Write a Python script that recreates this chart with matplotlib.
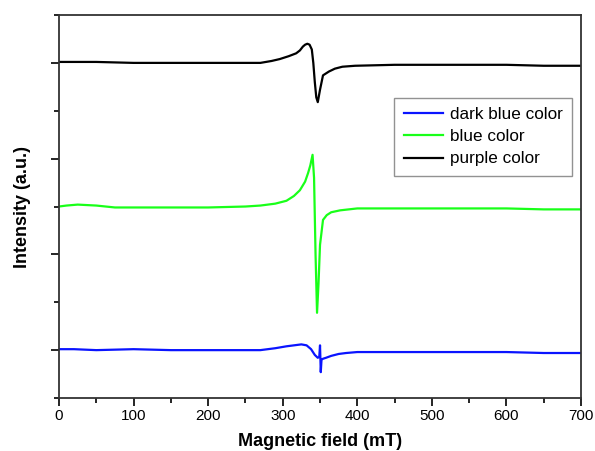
import numpy as np
import matplotlib.pyplot as plt
from matplotlib.ticker import MultipleLocator, NullFormatter

plt.rcParams['font.family'] = ['Liberation Sans', 'DejaVu Sans']

# =====================
# Data
# =====================

field_blue = [0, 20, 50, 100, 150, 200, 250, 270, 290, 305, 315, 325, 332, 338,
              343, 347, 349, 350, 351, 352, 354, 358, 365, 375, 385, 400, 450,
              500, 550, 600, 650, 700]
int_blue = [0.01, 0.01, 0.00, 0.01, 0.00, 0.00, 0.00, 0.00, 0.02, 0.04, 0.05,
            0.06, 0.05, 0.01, -0.05, -0.08, -0.07, 0.05, -0.23, -0.10, -0.09,
            -0.08, -0.06, -0.04, -0.03, -0.02, -0.02, -0.02, -0.02, -0.02,
            -0.03, -0.03]

field_green = [0, 10, 25, 50, 75, 100, 150, 200, 250, 270, 290, 305, 315, 323,
               330, 334, 337, 340, 342, 344, 346, 348, 350, 354, 359, 365, 377,
               400, 450, 500, 550, 600, 650, 700]
int_green = [1.50, 1.51, 1.52, 1.51, 1.49, 1.49, 1.49, 1.49, 1.50, 1.51, 1.53,
             1.56, 1.61, 1.67, 1.76, 1.85, 1.93, 2.04, 1.80, 1.00, 0.39, 0.70,
             1.10, 1.36, 1.41, 1.44, 1.46, 1.48, 1.48, 1.48, 1.48, 1.48, 1.47,
             1.47]

field_black = [0, 50, 100, 150, 200, 250, 270, 285, 296, 308, 318, 323, 327,
               330, 333, 336, 339, 341, 343, 345, 347, 350, 354, 362, 370, 380,
               397, 450, 500, 550, 600, 650, 700]
int_black = [3.01, 3.01, 3.00, 3.00, 3.00, 3.00, 3.00, 3.02, 3.04, 3.07, 3.10,
             3.13, 3.17, 3.19, 3.20, 3.19, 3.14, 3.00, 2.80, 2.64, 2.59, 2.72,
             2.87, 2.91, 2.94, 2.96, 2.97, 2.98, 2.98, 2.98, 2.98, 2.97, 2.97]

# =====================
# Plot
# =====================

fig = plt.figure(figsize=(5.95, 4.51), dpi=100)
ax = fig.add_axes([0.0992, 0.1175, 0.8773, 0.8492])

ax.plot(field_blue, int_blue, color="#0a14ff", lw=1.6, label="dark blue color")
ax.plot(field_green, int_green, color="#19ff19", lw=1.6, label="blue color")
ax.plot(field_black, int_black, color="black", lw=1.6, label="purple color")

ax.set_xlim(0, 700)
ax.set_ylim(-0.5, 3.5)

ax.xaxis.set_major_locator(MultipleLocator(100))
ax.xaxis.set_minor_locator(MultipleLocator(50))
ax.yaxis.set_major_locator(MultipleLocator(1))
ax.yaxis.set_minor_locator(MultipleLocator(0.5))
ax.yaxis.set_major_formatter(NullFormatter())

ax.tick_params(which="major", direction="out", length=6, width=1.2,
               labelsize=11, pad=2, top=False, right=False)
ax.tick_params(which="minor", direction="out", length=3.5, width=1.2,
               top=False, right=False)

for s in ax.spines.values():
    s.set_linewidth(1.3)
    s.set_color("#333333")

ax.set_xlabel("Magnetic field (mT)", fontsize=13, fontweight="bold", labelpad=7)
ax.set_ylabel("Intensity (a.u.)", fontsize=13, fontweight="bold", labelpad=12)

leg = ax.legend(loc="upper right", bbox_to_anchor=(0.983, 0.784),
                borderaxespad=0, fontsize=12.3, frameon=True, fancybox=False,
                handlelength=2.3, handletextpad=0.4, labelspacing=0.42,
                borderpad=0.55)
leg.get_frame().set_edgecolor("#777777")
leg.get_frame().set_linewidth(1.0)

plt.savefig("out.png", dpi=100)
